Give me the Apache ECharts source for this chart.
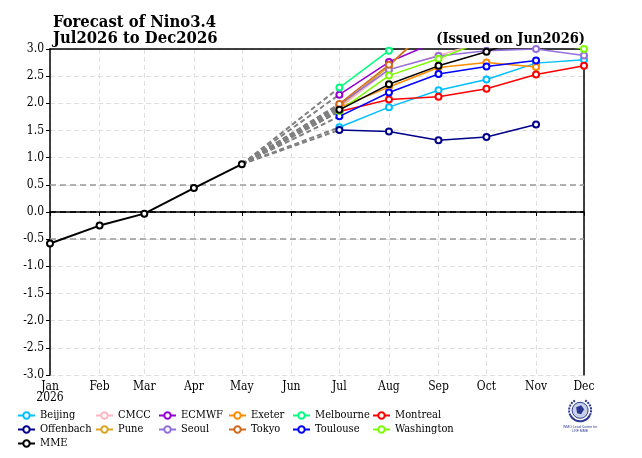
<!DOCTYPE html>
<html>
<head>
<meta charset="utf-8">
<script src="https://cdn.jsdelivr.net/npm/echarts@6/dist/echarts.min.js"></script>
<style>
  html, body { margin: 0; padding: 0; background: #fff; }
  #chart { width: 642px; height: 458px; }
</style>
</head>
<body>
<div id="chart"></div>
<script>
// observed months Jan..May, forecast months Jul..Dec
const obsMonths = ['2026-01-01', '2026-02-01', '2026-03-01', '2026-04-01', '2026-05-01']
const fcMonths = ['2026-07-01', '2026-08-01', '2026-09-01', '2026-10-01', '2026-11-01', '2026-12-01']
const monthNames = ['Jan', 'Feb', 'Mar', 'Apr', 'May', 'Jun', 'Jul', 'Aug', 'Sep', 'Oct', 'Nov', 'Dec']

const observed = [-0.58, -0.25, -0.03, 0.44, 0.88]

const beijing = [1.56, 1.93, 2.24, 2.44, 2.74, 2.80]
const cmcc = [1.92, 2.62, 2.88, 3.15, 3.3, 3.4]
const ecmwf = [2.16, 2.76, 3.15, 3.4, 3.5, 3.5]
const exeter = [1.92, 2.30, 2.66, 2.75, 2.67, null]
const melbourne = [2.29, 2.97, 3.6, 3.9, 4.0, 4.0]
const montreal = [1.85, 2.07, 2.12, 2.27, 2.53, 2.69]
const offenbach = [1.51, 1.48, 1.32, 1.38, 1.61, null]
const pune = [1.95, 2.68, 3.6, 3.8, 3.9, 3.9]
const seoul = [1.98, 2.62, 2.87, 2.97, 3.0, 2.88]
const tokyo = [1.99, 2.71, 3.5, 3.8, 3.9, 3.9]
const toulouse = [1.76, 2.20, 2.54, 2.68, 2.79, null]
const washington = [1.86, 2.51, 2.82, 3.17, 3.15, 3.0]
const mme = [1.88, 2.35, 2.69, 2.95, 3.28, 3.4]

const models = [
  { name: 'Beijing', color: '#00bfff', data: beijing },
  { name: 'CMCC', color: '#ffb6c1', data: cmcc },
  { name: 'ECMWF', color: '#9400d3', data: ecmwf },
  { name: 'Exeter', color: '#ff8c00', data: exeter },
  { name: 'Melbourne', color: '#00ff7f', data: melbourne },
  { name: 'Montreal', color: '#ff0000', data: montreal },
  { name: 'Offenbach', color: '#00008b', data: offenbach },
  { name: 'Pune', color: '#daa520', data: pune },
  { name: 'Seoul', color: '#9370db', data: seoul },
  { name: 'Tokyo', color: '#d2691e', data: tokyo },
  { name: 'Toulouse', color: '#0000ff', data: toulouse },
  { name: 'Washington', color: '#7cfc00', data: washington },
  { name: 'MME', color: '#000000', data: mme },
]

const FONT = "'DejaVu Serif Condensed', 'DejaVu Serif', serif"
const chart = echarts.init(document.getElementById('chart'), null, { renderer: 'canvas' })

const pairs = (xs, ys) => xs.map((x, i) => [x, ys[i]]).filter(p => p[1] !== null)

const series = []
// grey dashed connectors from last observation to each first forecast
models.forEach(m => {
  series.push({
    name: m.name + '_link',
    type: 'line',
    data: [[obsMonths[4], observed[4]], [fcMonths[0], m.data[0]]],
    symbol: 'none',
    silent: true,
    lineStyle: { color: '#808080', width: 2, type: [5, 3] },
    z: 1,
  })
})
series.push({
  name: 'Observed',
  type: 'line',
  data: pairs(obsMonths, observed),
  symbol: 'emptyCircle',
  symbolSize: 6,
  color: '#000',
  lineStyle: { color: '#000', width: 2 },
  itemStyle: { borderWidth: 1.5 },
  z: 5,
  markLine: {
    silent: true,
    symbol: 'none',
    label: { show: false },
    data: [
      { yAxis: 0, lineStyle: { color: '#000', type: [6, 4], width: 1.5 } },
      { yAxis: 0.5, lineStyle: { color: '#999', type: [6, 4], width: 1.5 } },
      { yAxis: -0.5, lineStyle: { color: '#999', type: [6, 4], width: 1.5 } },
    ],
  },
})
models.forEach(m => {
  series.push({
    name: m.name,
    type: 'line',
    data: pairs(fcMonths, m.data),
    symbol: 'emptyCircle',
    symbolSize: 6,
    color: m.color,
    lineStyle: { color: m.color, width: 1.5 },
    itemStyle: { borderWidth: 1.5 },
    z: m.name === 'MME' ? 5 : 3,
  })
})

const legendCols = [
  { left: 17, names: ['Beijing', 'Offenbach', 'MME'] },
  { left: 95, names: ['CMCC', 'Pune'] },
  { left: 158, names: ['ECMWF', 'Seoul'] },
  { left: 228, names: ['Exeter', 'Tokyo'] },
  { left: 292, names: ['Melbourne', 'Toulouse'] },
  { left: 372, names: ['Montreal', 'Washington'] },
]

const gridLine = { show: true, lineStyle: { color: '#e0e0e0', type: [5, 3] } }
const NAVY = '#2b3990'

chart.setOption({
  animation: false,
  backgroundColor: '#fff',
  textStyle: { fontFamily: FONT },
  title: [
    {
      text: 'Forecast of Nino3.4\nJul2026 to Dec2026',
      left: 48,
      top: 9,
      textStyle: { fontFamily: FONT, fontWeight: 'bold', fontSize: 16.5, lineHeight: 16.5, color: '#000' },
    },
    {
      text: '(Issued on Jun2026)',
      right: 52,
      top: 27,
      textStyle: { fontFamily: FONT, fontWeight: 'bold', fontSize: 14.5, color: '#000' },
    },
  ],
  legend: legendCols.map(c => ({
    orient: 'vertical',
    left: c.left,
    top: 409,
    itemWidth: 17,
    itemHeight: 8,
    itemGap: 1,
    padding: 0,
    data: c.names,
    textStyle: { fontFamily: FONT, fontSize: 11, color: '#000', lineHeight: 13 },
    selectedMode: false,
  })),
  grid: { left: 50, right: 58, top: 49, bottom: 83 },
  xAxis: [
    {
      type: 'time',
      min: '2026-01-01',
      max: '2026-12-01',
      splitNumber: 11,
      axisLine: { lineStyle: { color: '#000', width: 1.5 } },
      axisTick: { show: true, length: 4, lineStyle: { color: '#000' } },
      splitLine: gridLine,
      axisLabel: {
        color: '#000',
        fontFamily: FONT,
        fontSize: 12,
        lineHeight: 11,
        margin: 6,
        showMinLabel: true,
        showMaxLabel: true,
        hideOverlap: false,
        formatter: (v) => {
          const d = new Date(v)
          const m = monthNames[d.getMonth()]
          return d.getMonth() === 0 ? m + '\n' + d.getFullYear() : m
        },
      },
    },
    {
      type: 'time',
      position: 'top',
      min: '2026-01-01',
      max: '2026-12-01',
      axisLine: { show: true, onZero: false, lineStyle: { color: '#000', width: 1.5 } },
      axisTick: { show: false },
      axisLabel: { show: false },
      splitLine: { show: false },
    },
  ],
  yAxis: [
    {
      type: 'value',
      min: -3,
      max: 3,
      interval: 0.5,
      axisLine: { show: true, onZero: false, lineStyle: { color: '#000', width: 1.5 } },
      axisTick: { show: true, length: 4, lineStyle: { color: '#000' } },
      splitLine: gridLine,
      axisLabel: {
        color: '#000',
        fontFamily: FONT,
        fontSize: 12,
        margin: 6,
        formatter: v => v.toFixed(1),
      },
    },
    {
      type: 'value',
      position: 'right',
      min: -3,
      max: 3,
      interval: 0.5,
      axisLine: { show: true, onZero: false, lineStyle: { color: '#000', width: 1.5 } },
      axisTick: { show: false },
      axisLabel: { show: false },
      splitLine: { show: false },
    },
  ],
  // small WMO-style emblem, bottom right
  graphic: [
    {
      type: 'group',
      left: 563,
      top: 398,
      children: [
        { type: 'circle', shape: { cx: 16, cy: 14, r: 8 }, style: { fill: '#c9d0ea', stroke: NAVY, lineWidth: 1 } },
        { type: 'polygon', shape: { points: [[12, 11], [17, 9], [20, 13], [17, 18], [13, 17]] }, style: { fill: NAVY } },
        { type: 'arc', shape: { cx: 16, cy: 14, r: 11, startAngle: 0.15 * Math.PI, endAngle: 0.85 * Math.PI }, style: { stroke: NAVY, lineWidth: 2, fill: null } },
        { type: 'arc', shape: { cx: 16, cy: 14, r: 11, startAngle: 0.85 * Math.PI, endAngle: 1.35 * Math.PI }, style: { stroke: NAVY, lineWidth: 2, fill: null, lineDash: [2, 1] } },
        { type: 'arc', shape: { cx: 16, cy: 14, r: 11, startAngle: 1.65 * Math.PI, endAngle: 2.15 * Math.PI }, style: { stroke: NAVY, lineWidth: 2, fill: null, lineDash: [2, 1] } },
        { type: 'text', style: { text: 'WMO Lead Centre for\nLRF MME', x: 16, y: 29, align: 'center', fontSize: 3.5, fill: NAVY } },
      ],
    },
  ],
  series,
})
</script>
</body>
</html>
